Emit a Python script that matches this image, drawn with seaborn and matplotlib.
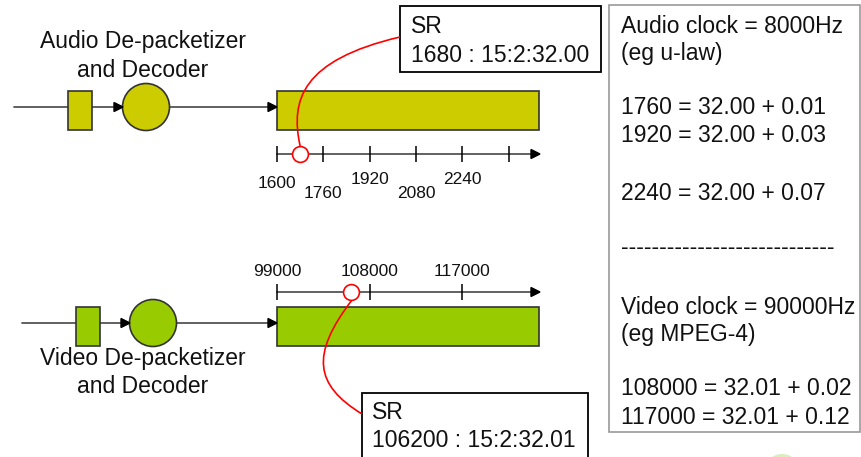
import matplotlib
matplotlib.use("Agg")
import matplotlib.pyplot as plt
import matplotlib.patches as mpatches
from matplotlib.path import Path
import seaborn as sns
import pandas as pd

# ---------------- data ----------------
audio_ticks = [1600, 1760, 1920, 2080, 2240, 2400]
audio_tick_labels = ["1600", "1760", "1920", "2080", "2240", ""]
audio_sr_value = 1680
audio_sr_text = ["SR", "1680 : 15:2:32.00"]

video_ticks = [99000, 108000, 117000]
video_tick_labels = ["99000", "108000", "117000"]
video_sr_value = 106200
video_sr_text = ["SR", "106200 : 15:2:32.01"]

audio_title = ["Audio De-packetizer", "and Decoder"]
video_title = ["Video De-packetizer", "and Decoder"]

panel_lines = [
    "Audio clock = 8000Hz", "(eg u-law)",
    "1760 = 32.00 + 0.01", "1920 = 32.00 + 0.03",
    "2240 = 32.00 + 0.07",
    "----------------------------",
    "Video clock = 90000Hz", "(eg MPEG-4)",
    "108000 = 32.01 + 0.02", "117000 = 32.01 + 0.12",
]

# ---------------- style / layout ----------------
sns.set_theme(style="white")
plt.rcParams["font.family"] = ["Liberation Sans", "DejaVu Sans"]

AUDIO_COL = "#CCCC00"
VIDEO_COL = "#99CC00"
EDGE = "#333333"
LINE = "#555555"
BIG = 16.5
SMALL = 12.5

fig = plt.figure(figsize=(8.61, 4.57), dpi=100)
ax = fig.add_axes([0, 0, 1, 1])
ax.set_xlim(0, 861)
ax.set_ylim(457, 0)
ax.axis("off")


def arrow_line(x0, x1, y, head=True):
    ax.plot([x0, x1 - (8 if head else 0)], [y, y], color=LINE, lw=1.3, zorder=1)
    if head:
        ax.add_patch(mpatches.Polygon([[x1, y], [x1 - 9, y - 4.5], [x1 - 9, y + 4.5]],
                                      closed=True, color="black", zorder=3))


def rect(x0, y0, x1, y1, fc, ec=EDGE, lw=1.2, z=2):
    ax.add_patch(mpatches.Rectangle((x0, y0), x1 - x0, y1 - y0, fc=fc, ec=ec, lw=lw, zorder=z))


def circle(cx, cy, r, fc, ec=EDGE, lw=1.2, z=2):
    ax.add_patch(mpatches.Circle((cx, cy), r, fc=fc, ec=ec, lw=lw, zorder=z))


def bezier(p0, p1, p2, p3):
    path = Path([p0, p1, p2, p3], [Path.MOVETO, Path.CURVE4, Path.CURVE4, Path.CURVE4])
    ax.add_patch(mpatches.PathPatch(path, fc="none", ec="red", lw=1.2, zorder=5))


# ---------- audio pipeline ----------
for i, t in enumerate(audio_title):
    ax.text(143, 48 + 29 * i, t, fontsize=BIG, ha="center", va="baseline", color="#111111")
arrow_line(14, 68, 107, head=False)
rect(68, 91, 92, 130, AUDIO_COL)
arrow_line(92, 123, 107)
circle(146, 107, 23.5, AUDIO_COL)
arrow_line(169, 277, 107)
rect(277, 91, 539, 130, AUDIO_COL)

# audio time axis
ax_x0, ax_x1 = 277, 508.5
a_scale = (ax_x1 - ax_x0) / (audio_ticks[-1] - audio_ticks[0])
a_px = lambda v: ax_x0 + (v - audio_ticks[0]) * a_scale
arrow_line(277, 540, 154)
ax.vlines([a_px(v) for v in audio_ticks], 146, 162, color="black", lw=1.1, zorder=2)
a_label_y = [188, 198, 184, 198, 184, 198]
for v, lab, yb in zip(audio_ticks, audio_tick_labels, a_label_y):
    ax.text(a_px(v), yb, lab, fontsize=SMALL, ha="center", va="baseline", color="#111111")

# ---------- video pipeline ----------
for i, t in enumerate(video_title):
    ax.text(143, 365 + 28 * i, t, fontsize=BIG, ha="center", va="baseline", color="#111111")
arrow_line(22, 76, 323, head=False)
rect(76, 307, 100, 346, VIDEO_COL)
arrow_line(100, 130, 323)
circle(153, 323, 23.5, VIDEO_COL)
arrow_line(177, 277, 323)
rect(277, 307, 539, 346, VIDEO_COL)

v_scale = (462 - 277) / (video_ticks[-1] - video_ticks[0])
v_px = lambda v: 277 + (v - video_ticks[0]) * v_scale
arrow_line(277, 540, 292)
ax.vlines([v_px(v) for v in video_ticks], 284, 300, color="black", lw=1.1, zorder=2)
for v, lab in zip(video_ticks, video_tick_labels):
    ax.text(v_px(v), 276, lab, fontsize=SMALL, ha="center", va="baseline", color="#111111")

# ---------- SR markers (seaborn scatter) ----------
sr_df = pd.DataFrame({"x": [a_px(audio_sr_value), v_px(video_sr_value)], "y": [154, 292]})
sns.scatterplot(data=sr_df, x="x", y="y", ax=ax, marker="o", s=130,
                facecolor="white", edgecolor="red", linewidth=1.2, zorder=6, legend=False)
ax.set_xlim(0, 861)
ax.set_ylim(457, 0)
ax.axis("off")

# audio SR callout
rect(400, 6, 601, 72, "white", ec="black", lw=1.3, z=4)
ax.text(411, 33, audio_sr_text[0], fontsize=BIG, va="baseline", color="#111111", zorder=6)
ax.text(411, 62, audio_sr_text[1], fontsize=BIG, va="baseline", color="#111111", zorder=6)
ax_sr = a_px(audio_sr_value)
bezier((400, 37), (302, 60), (290, 100), (ax_sr, 146))

# video SR callout
rect(362, 393, 588, 470, "white", ec="black", lw=1.3, z=4)
ax.text(372, 419, video_sr_text[0], fontsize=BIG, va="baseline", color="#111111", zorder=6)
ax.text(372, 447, video_sr_text[1], fontsize=BIG, va="baseline", color="#111111", zorder=6)
vx_sr = v_px(video_sr_value)
bezier((vx_sr + 1, 300), (310, 355), (315, 385), (362, 414))

# ---------- right info panel ----------
rect(609, 5, 860, 432, "white", ec="#999999", lw=1.2, z=1)
panel_y = [33, 60, 114, 142, 200, 254, 314, 341, 395, 424]
for t, yb in zip(panel_lines, panel_y):
    ax.text(621, yb, t, fontsize=BIG, va="baseline", color="#111111")

# decorative blob at bottom
circle(782, 472, 18, "#d8eebc", ec="none", lw=0, z=0)

fig.savefig("out.png", dpi=100)
